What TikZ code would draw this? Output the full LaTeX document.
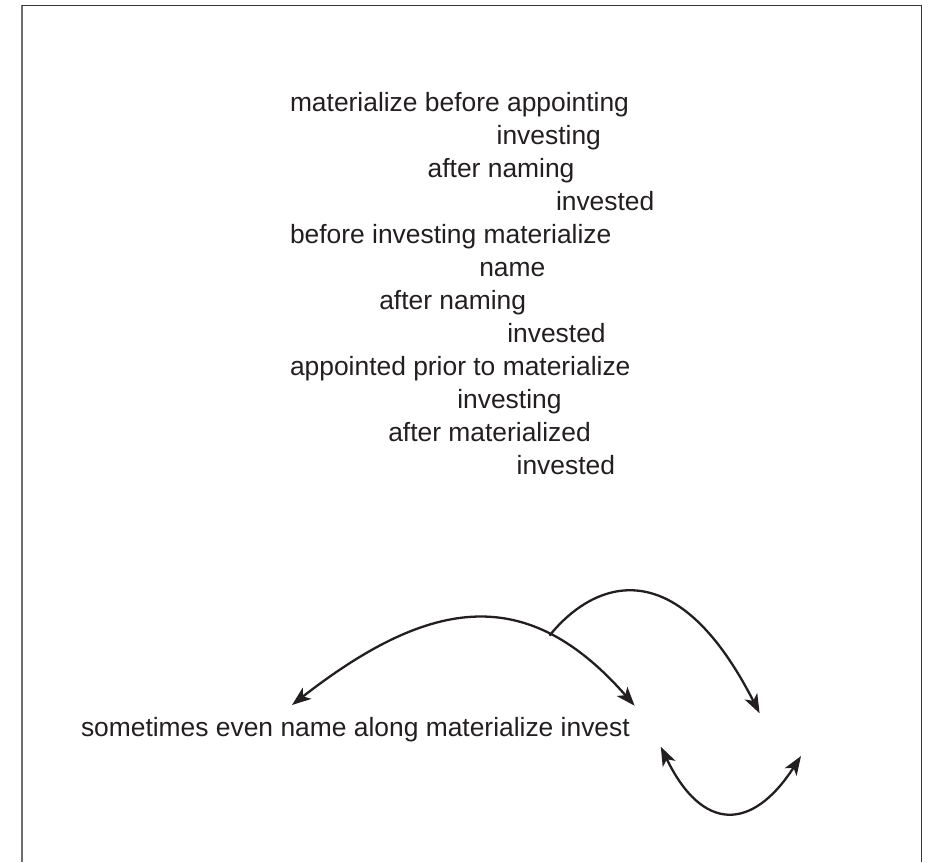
\documentclass[tikz,border=0pt]{standalone}
\usepackage{fontspec}
\setmainfont{Liberation Sans}
\usetikzlibrary{arrows.meta}
\definecolor{ink}{HTML}{231F20}
\definecolor{framegray}{HTML}{6D6E71}
\begin{document}
\begin{tikzpicture}[x=1pt,y=-1pt,
  lbl/.style={anchor=base west, inner sep=0pt, outer sep=0pt, text=ink,
              font=\fontsize{26.4}{33}\selectfont},
  arc/.style={draw=ink, line width=2.3pt,
              >={Stealth[length=19pt,width=14pt,inset=5pt]}}]
\useasboundingbox (0,0) rectangle (931,862);
\fill[white] (0,0) rectangle (931,862);
% frame (open at the bottom)
\draw[framegray, line width=2pt] (21.7,862) -- (21.7,5.3);
\draw[ink!90, line width=1.4pt] (21.7,5.3) -- (921.7,5.3) -- (921.7,862);
% text lines
\node[lbl] (t1)  at (290,111.7)   {materialize before appointing};
\node[lbl] (t2)  at (496.7,144.7) {investing};
\node[lbl] (t3)  at (427.7,177.7) {after naming};
\node[lbl] (t4)  at (556,210.7)   {invested};
\node[lbl] (t5)  at (290,243.7)   {before investing materialize};
\node[lbl] (t6)  at (479.3,276.7) {name};
\node[lbl] (t7)  at (379.3,309.7) {after naming};
\node[lbl] (t8)  at (507.3,342.7) {invested};
\node[lbl] (t9)  at (290,375.7)   {appointed prior to materialize};
\node[lbl] (t10) at (457.3,408.7) {investing};
\node[lbl] (t11) at (388.3,441.7) {after materialized};
\node[lbl] (t12) at (516.7,474.7) {invested};
\node[lbl] (bottom) at (81,736.7) {sometimes even name along materialize invest};
% arrow end points
\coordinate (aL) at (292,705);
\coordinate (aR) at (634.6,705.7);
\coordinate (bEnd) at (759.6,713.3);
\coordinate (cL) at (660.8,746.7);
\coordinate (cR) at (801,756);
% curves
\draw[arc,<->] (aL) .. controls (432,596) and (528,584) .. coordinate[pos=0.73] (junc) (aR);
\draw[arc,->] (junc) .. controls (590,585) and (673.3,544) .. (bEnd);
\draw[arc,<->] (cL) .. controls (702,832) and (752,832) .. (cR);
\end{tikzpicture}
\end{document}
